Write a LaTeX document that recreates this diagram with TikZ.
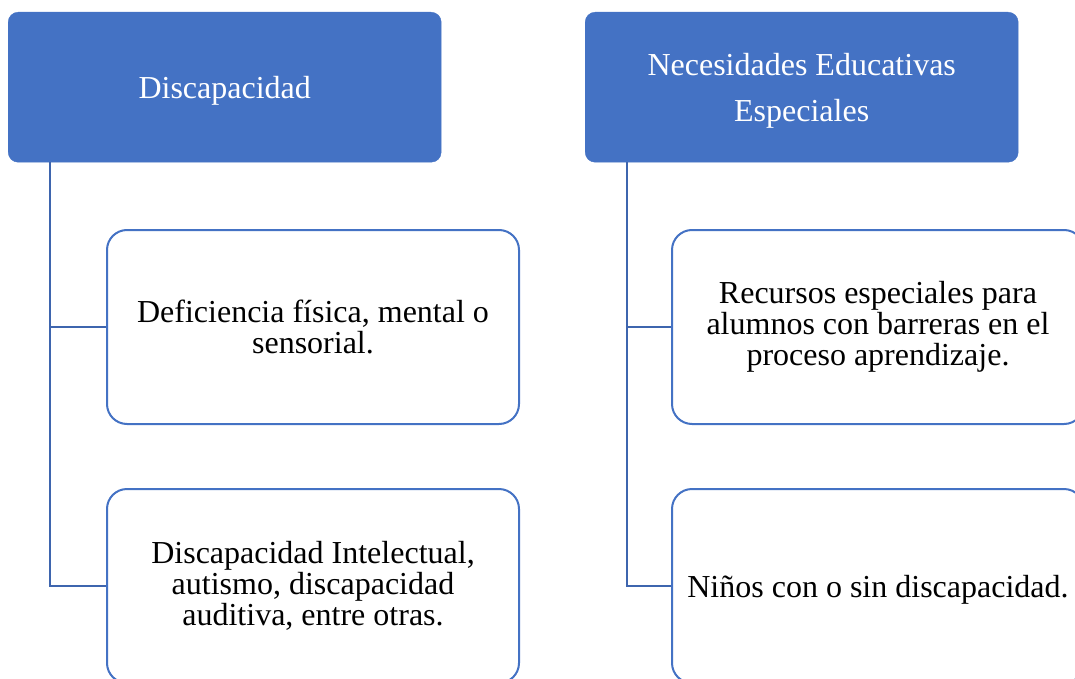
\documentclass[tikz,border=0pt]{standalone}
\usepackage{fontspec}
\setmainfont{Liberation Serif}
\definecolor{boxblue}{HTML}{4472C4}
\definecolor{lineblue}{HTML}{3E65AE}
\newcommand\hdstrut{\rule{0pt}{30pt}}

\begin{document}
\begin{tikzpicture}[x=1pt,y=-1pt,
   head/.style={draw=boxblue,fill=boxblue,rounded corners=10pt,text=white,
      anchor=north west,minimum width=433pt,minimum height=150pt,
      align=center,font=\fontsize{32}{46}\selectfont},
   item/.style={draw=boxblue,line width=2pt,fill=white,rounded corners=20pt,
      anchor=north west,minimum width=412pt,minimum height=194pt,
      align=center,font=\fontsize{32}{31}\selectfont},
   link/.style={draw=lineblue,line width=2.8pt}]
\useasboundingbox (0,0) rectangle (1075,679);
\clip (0,0) rectangle (1075,679);
% column headers
\node[head] (dis) at (8,12) {\hdstrut Discapacidad};
\node[head] (nee) at (585,12) {\hdstrut Necesidades Educativas\\Especiales};
% left column
\node[item] (d1) at (106,229) {Deficiencia física, mental o\\sensorial.};
\node[item] (d2) at (106,488) {Discapacidad Intelectual,\\autismo, discapacidad\\auditiva, entre otras.};
% right column
\node[item] (n1) at (671,229) {Recursos especiales para\\alumnos con barreras en el\\proceso aprendizaje.};
\node[item] (n2) at (671,488) {\hdstrut Niños con o sin discapacidad.};
% connectors
\draw[link] ([xshift=42pt]dis.south west) |- (d1.west);
\draw[link] ([xshift=42pt]dis.south west) |- (d2.west);
\draw[link] ([xshift=42pt]nee.south west) |- (n1.west);
\draw[link] ([xshift=42pt]nee.south west) |- (n2.west);
\end{tikzpicture}
\end{document}
